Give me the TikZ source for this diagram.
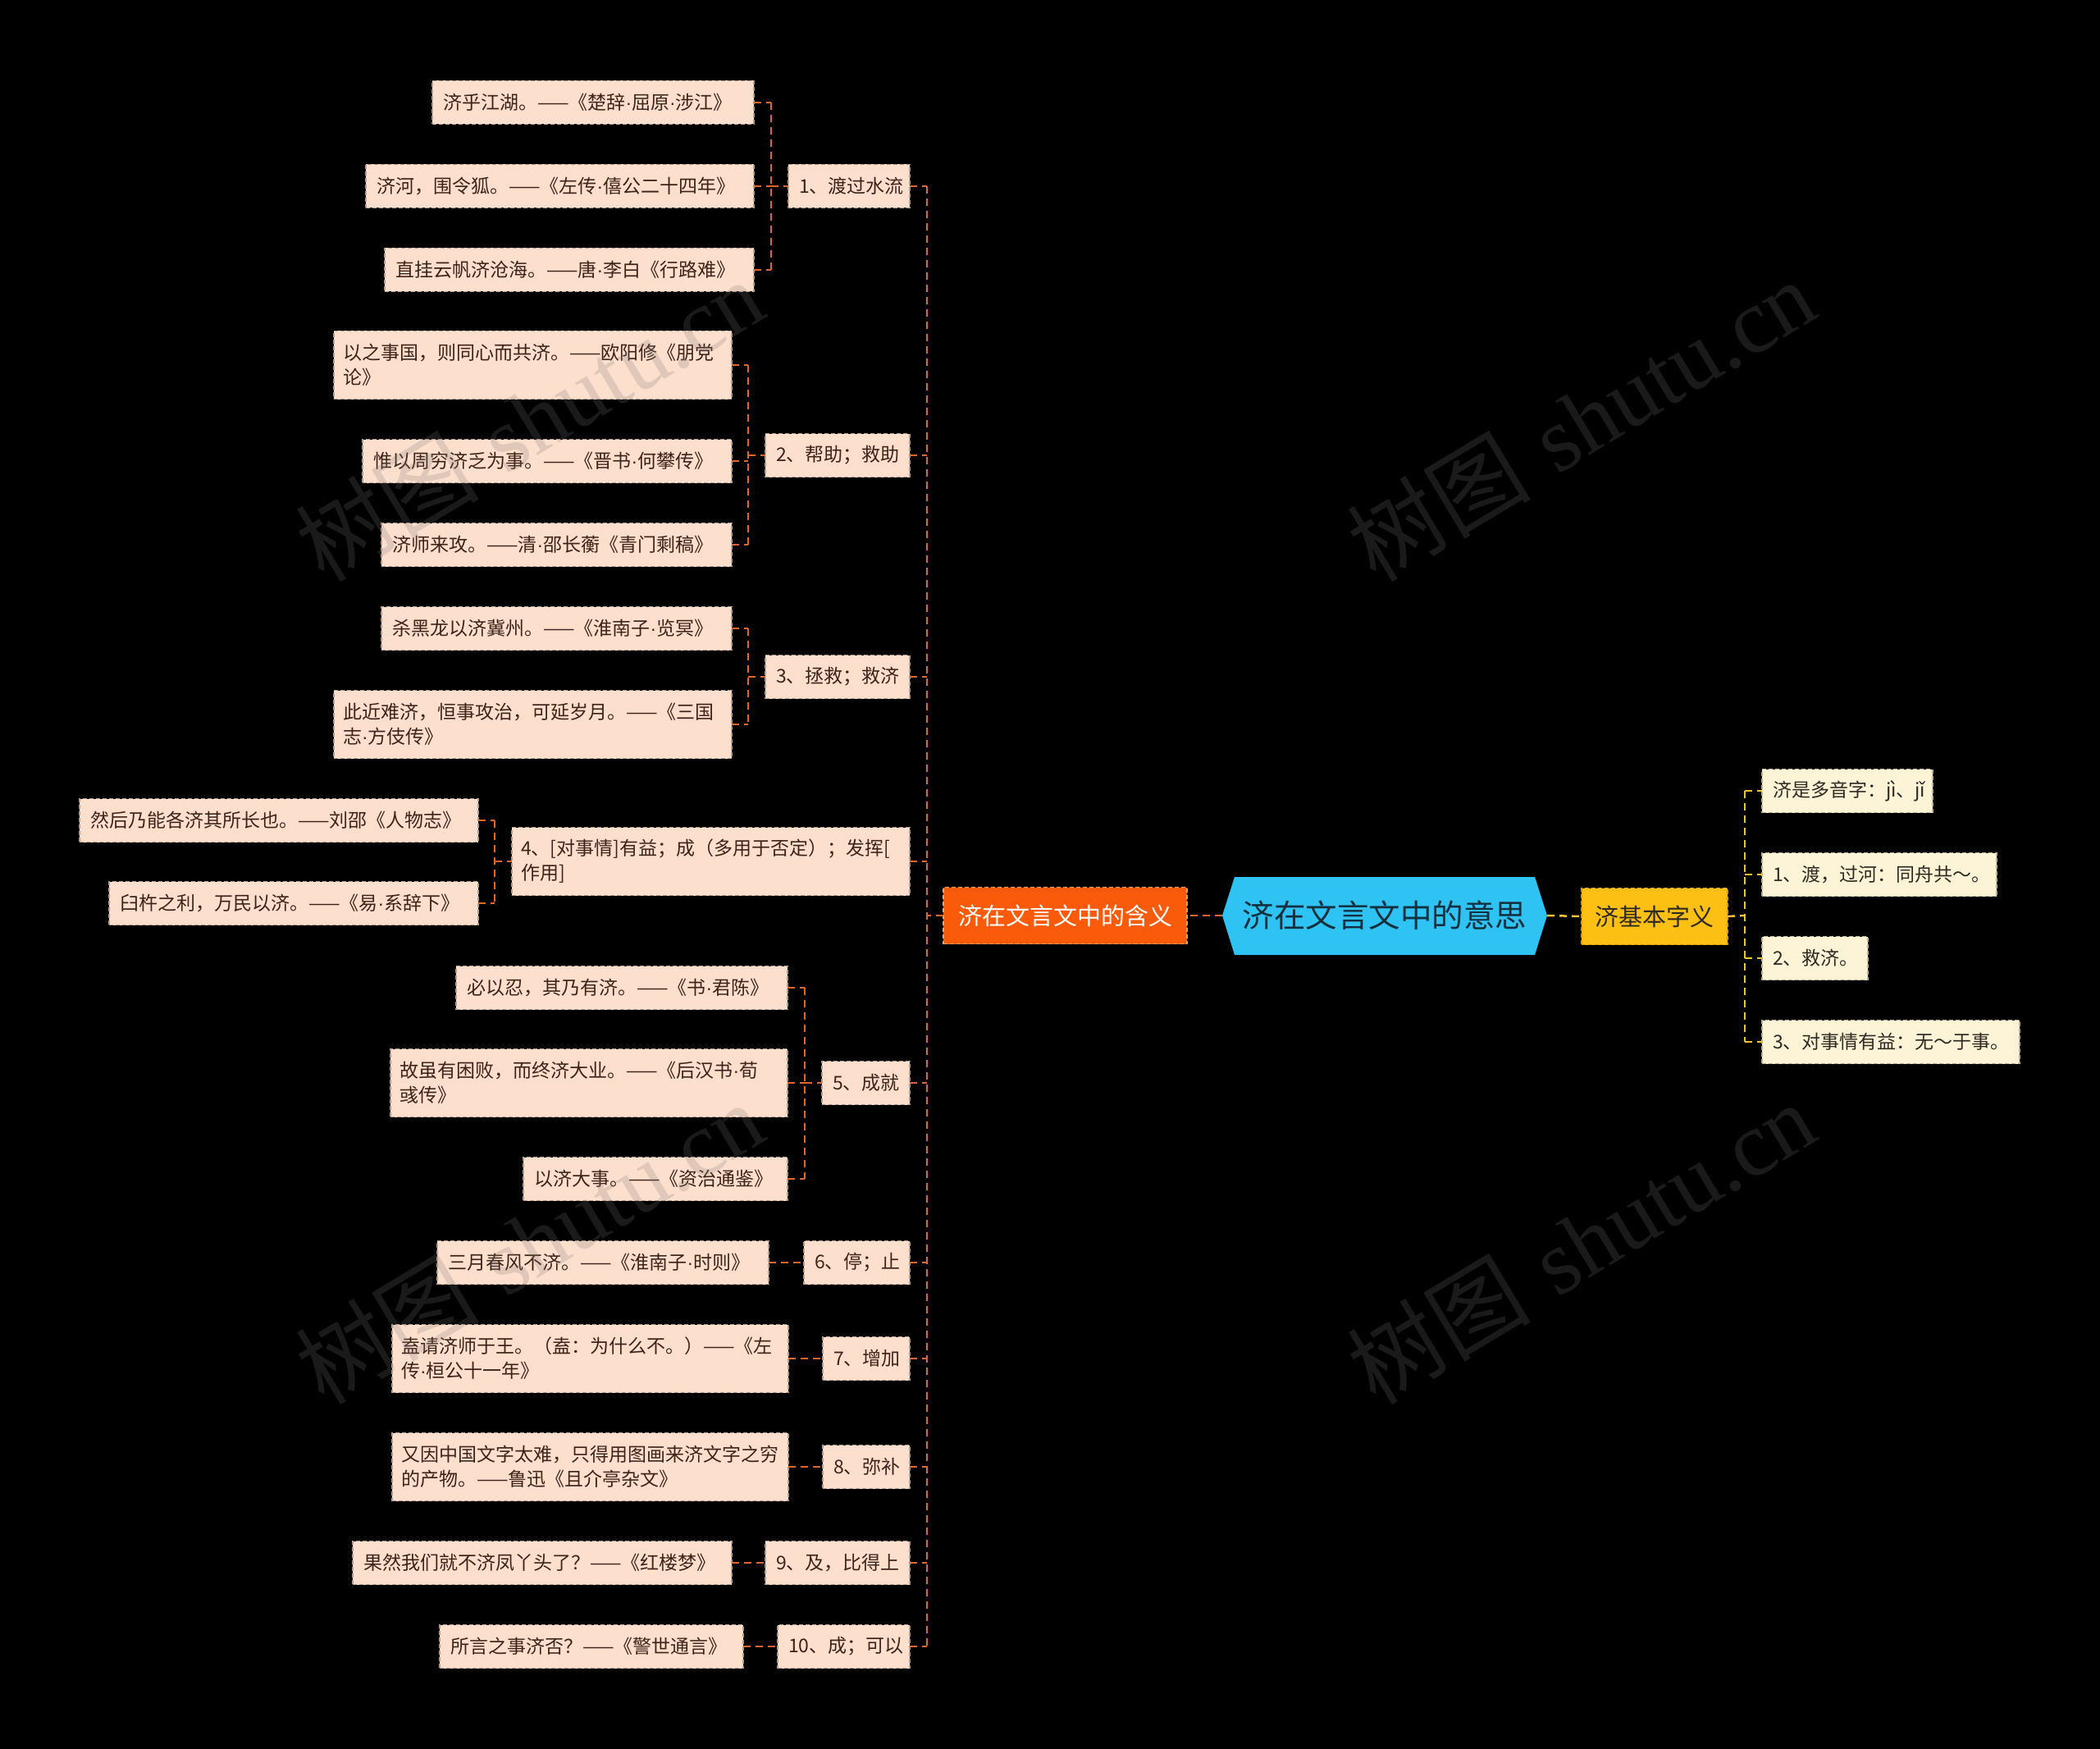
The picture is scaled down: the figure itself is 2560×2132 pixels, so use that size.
\documentclass[tikz,border=0pt]{standalone}
\usepackage{fontspec}
\newfontfamily\cjk{Noto Sans CJK SC}
\newfontfamily\wmlat{Liberation Serif}
\newfontfamily\latf{Liberation Sans}
\newcommand\zdot{{\latf ·}}
\usetikzlibrary{calc}
\definecolor{peach}{HTML}{FCDFCD}
\definecolor{peachline}{HTML}{B89A88}
\definecolor{brownT}{HTML}{3E2418}
\definecolor{cream}{HTML}{FDF4D7}
\definecolor{creamline}{HTML}{BFAE86}
\definecolor{grayT}{HTML}{2E2A22}
\definecolor{orangeF}{HTML}{F95B0B}
\definecolor{orangeL}{HTML}{FF9E62}
\definecolor{conOc}{HTML}{E0662C}
\definecolor{yellowF}{HTML}{FCBF14}
\definecolor{yellowL}{HTML}{D99A00}
\definecolor{conYc}{HTML}{F2C230}
\definecolor{hexF}{HTML}{2FC3F4}
\definecolor{hexT}{HTML}{14303F}
\definecolor{wmc}{HTML}{7A7A7A}
\begin{document}
\begin{tikzpicture}[x=1pt,y=-1pt,
  leafL/.style={fill=peach, draw=peachline, dash pattern=on 5pt off 3pt, line width=1.2pt,
    text=brownT, font=\cjk\fontsize{23}{30}\selectfont, align=left, inner xsep=13pt,
    inner ysep=0pt, minimum height=53pt, anchor=east, outer sep=0pt},
  twoline/.style={minimum height=83pt, inner xsep=11pt},
  leafR/.style={fill=cream, draw=creamline, dash pattern=on 5pt off 3pt, line width=1.2pt,
    text=grayT, font=\cjk\fontsize{23}{30}\selectfont, align=left, inner xsep=13pt,
    inner ysep=0pt, minimum height=53pt, anchor=west, outer sep=0pt},
  conO/.style={draw=conOc, line width=2.5pt, dash pattern=on 9pt off 6pt},
  conY/.style={draw=conYc, line width=2.5pt, dash pattern=on 9pt off 6pt},
  wm/.style={text=wmc, opacity=0.22, rotate=31, font=\fontsize{112}{120}\selectfont}
]
\fill[black] (0,0) rectangle (2560,2132);
\useasboundingbox (0,0) rectangle (2560,2132);

% ---------- centre ----------
\fill[hexF] (1490,1116) -- (1505,1069) -- (1871,1069) -- (1886,1116) -- (1871,1164) -- (1505,1164) -- cycle;
\node[minimum width=396pt, minimum height=95pt, inner sep=0pt, outer sep=0pt, text=hexT,
  font=\cjk\fontsize{38.5}{44}\selectfont] (ctr) at (1688,1116) {济在文言文中的意思};

\node[fill=orangeF, draw=orangeL, dash pattern=on 5pt off 3pt, line width=1.2pt, text=white,
  minimum width=297pt, minimum height=69pt, inner sep=0pt, outer sep=0pt,
  font=\cjk\fontsize{29}{34}\selectfont] (org) at (1298.5,1116) {济在文言文中的含义};

\node[fill=yellowF, draw=yellowL, dash pattern=on 5pt off 3pt, line width=1.2pt, text=grayT,
  minimum width=178pt, minimum height=69pt, inner sep=0pt, outer sep=0pt,
  font=\cjk\fontsize{29}{34}\selectfont] (yel) at (2017,1117) {济基本字义};

% ---------- left level 2 ----------
\node[leafL, text width=122pt] (p1) at (1109,227) {1、渡过水流};
\node[leafL, text width=150pt] (p2) at (1109,555) {2、帮助；救助};
\node[leafL, text width=150pt] (p3) at (1109,825) {3、拯救；救济};
\node[leafL, twoline, text width=463pt] (p4) at (1109,1050) {4、[对事情]有益；成（多用于否定）；发挥[\\作用]};
\node[leafL, text width=81pt] (p5) at (1109,1320) {5、成就};
\node[leafL, text width=103pt] (p6) at (1109,1539) {6、停；止};
\node[leafL, text width=80pt] (p7) at (1109,1656) {7、增加};
\node[leafL, text width=80pt] (p8) at (1109,1788) {8、弥补};
\node[leafL, text width=150pt] (p9) at (1109,1905) {9、及，比得上};
\node[leafL, text width=135pt] (p10) at (1109,2007) {10、成；可以};

% ---------- left leaves ----------
\node[leafL, text width=366pt] (a1) at (919,125) {济乎江湖。——《楚辞\zdot 屈原\zdot 涉江》};
\node[leafL, text width=447pt] (a2) at (919,227) {济河，围令狐。——《左传\zdot 僖公二十四年》};
\node[leafL, text width=424pt] (a3) at (919,329) {直挂云帆济沧海。——唐\zdot 李白《行路难》};

\node[leafL, twoline, text width=463pt] (b1) at (892,445) {以之事国，则同心而共济。——欧阳修《朋党\\论》};
\node[leafL, text width=424pt] (b2) at (892,562) {惟以周穷济乏为事。——《晋书\zdot 何攀传》};
\node[leafL, text width=401pt] (b3) at (892,664) {济师来攻。——清\zdot 邵长蘅《青门剩稿》};

\node[leafL, text width=401pt] (c1) at (892,766) {杀黑龙以济冀州。——《淮南子\zdot 览冥》};
\node[leafL, twoline, text width=463pt] (c2) at (892,883) {此近难济，恒事攻治，可延岁月。——《三国\\志\zdot 方伎传》};

\node[leafL, text width=460pt] (d1) at (583,1000) {然后乃能各济其所长也。——刘邵《人物志》};
\node[leafL, text width=424pt] (d2) at (583,1101) {臼杵之利，万民以济。——《易\zdot 系辞下》};

\node[leafL, text width=378pt] (f1) at (960,1204) {必以忍，其乃有济。——《书\zdot 君陈》};
\node[leafL, twoline, text width=462pt] (f2) at (960,1320) {故虽有困败，而终济大业。——《后汉书\zdot 荀\\彧传》};
\node[leafL, text width=296pt] (f3) at (960,1437) {以济大事。——《资治通鉴》};

\node[leafL, text width=378pt] (g1) at (937,1539) {三月春风不济。——《淮南子\zdot 时则》};
\node[leafL, twoline, text width=461pt] (h1) at (961,1656) {盍请济师于王。（盍：为什么不。）——《左\\传\zdot 桓公十一年》};
\node[leafL, twoline, text width=461pt] (i1) at (961,1788) {又因中国文字太难，只得用图画来济文字之穷\\的产物。——鲁迅《且介亭杂文》};
\node[leafL, text width=436pt] (j1) at (892,1905) {果然我们就不济凤丫头了？——《红楼梦》};
\node[leafL, text width=344pt] (k1) at (906,2007) {所言之事济否？——《警世通言》};

% ---------- right leaves ----------
\node[leafR, text width=182pt] (e1) at (2148,964) {济是多音字：jì、jǐ};
\node[leafR, text width=260pt] (e2) at (2148,1066) {1、渡，过河：同舟共～。};
\node[leafR, text width=103pt] (e3) at (2148,1168) {2、救济。};
\node[leafR, text width=288pt] (e4) at (2148,1270) {3、对事情有益：无～于事。};

% ---------- coordinates ----------
\coordinate (sp) at (1130,1116);
\coordinate (ka) at (940,227);
\coordinate (kb) at (912,555);
\coordinate (kc) at (912,825);
\coordinate (kd) at (603,1050);
\coordinate (kf) at (981,1320);
\coordinate (kr) at (2127,1116);

% ---------- connectors ----------
\draw[conO] (ctr.west) -- (org.east);
\draw[conY] (ctr.east) -- (yel.west);
\draw[conO] (org.west) -- (sp);
\draw[conO] (p1.east -| sp) -- (p10.east -| sp);
\foreach \p in {p1,p2,p3,p4,p5,p6,p7,p8,p9,p10}{
  \draw[conO] (\p.east) -- (\p.east -| sp);
}
% group 1
\draw[conO] (a1.east -| ka) -- (a3.east -| ka);
\foreach \c in {a1,a2,a3}{ \draw[conO] (\c.east) -- (\c.east -| ka); }
\draw[conO] (ka) -- (p1.west);
% group 2
\draw[conO] (b1.east -| kb) -- (b3.east -| kb);
\foreach \c in {b1,b2,b3}{ \draw[conO] (\c.east) -- (\c.east -| kb); }
\draw[conO] (kb) -- (p2.west);
% group 3
\draw[conO] (c1.east -| kc) -- (c2.east -| kc);
\foreach \c in {c1,c2}{ \draw[conO] (\c.east) -- (\c.east -| kc); }
\draw[conO] (kc) -- (p3.west);
% group 4
\draw[conO] (d1.east -| kd) -- (d2.east -| kd);
\foreach \c in {d1,d2}{ \draw[conO] (\c.east) -- (\c.east -| kd); }
\draw[conO] (kd) -- (p4.west);
% group 5
\draw[conO] (f1.east -| kf) -- (f3.east -| kf);
\foreach \c in {f1,f2,f3}{ \draw[conO] (\c.east) -- (\c.east -| kf); }
\draw[conO] (kf) -- (p5.west);
% single children
\draw[conO] (g1.east) -- (p6.west);
\draw[conO] (h1.east) -- (p7.west);
\draw[conO] (i1.east) -- (p8.west);
\draw[conO] (j1.east) -- (p9.west);
\draw[conO] (k1.east) -- (p10.west);
% right
\draw[conY] (yel.east) -- (kr);
\draw[conY] (e1.west -| kr) -- (e4.west -| kr);
\foreach \e in {e1,e2,e3,e4}{ \draw[conY] (\e.west -| kr) -- (\e.west); }

% ---------- watermarks ----------
\node[wm] (w1) at (645,512) {{\cjk 树图} {\wmlat shutu.cn}};
\node[wm] (w2) at (1927,512) {{\cjk 树图} {\wmlat shutu.cn}};
\node[wm] (w3) at (645,1515) {{\cjk 树图} {\wmlat shutu.cn}};
\node[wm] (w4) at (1927,1515) {{\cjk 树图} {\wmlat shutu.cn}};
\end{tikzpicture}
\end{document}
